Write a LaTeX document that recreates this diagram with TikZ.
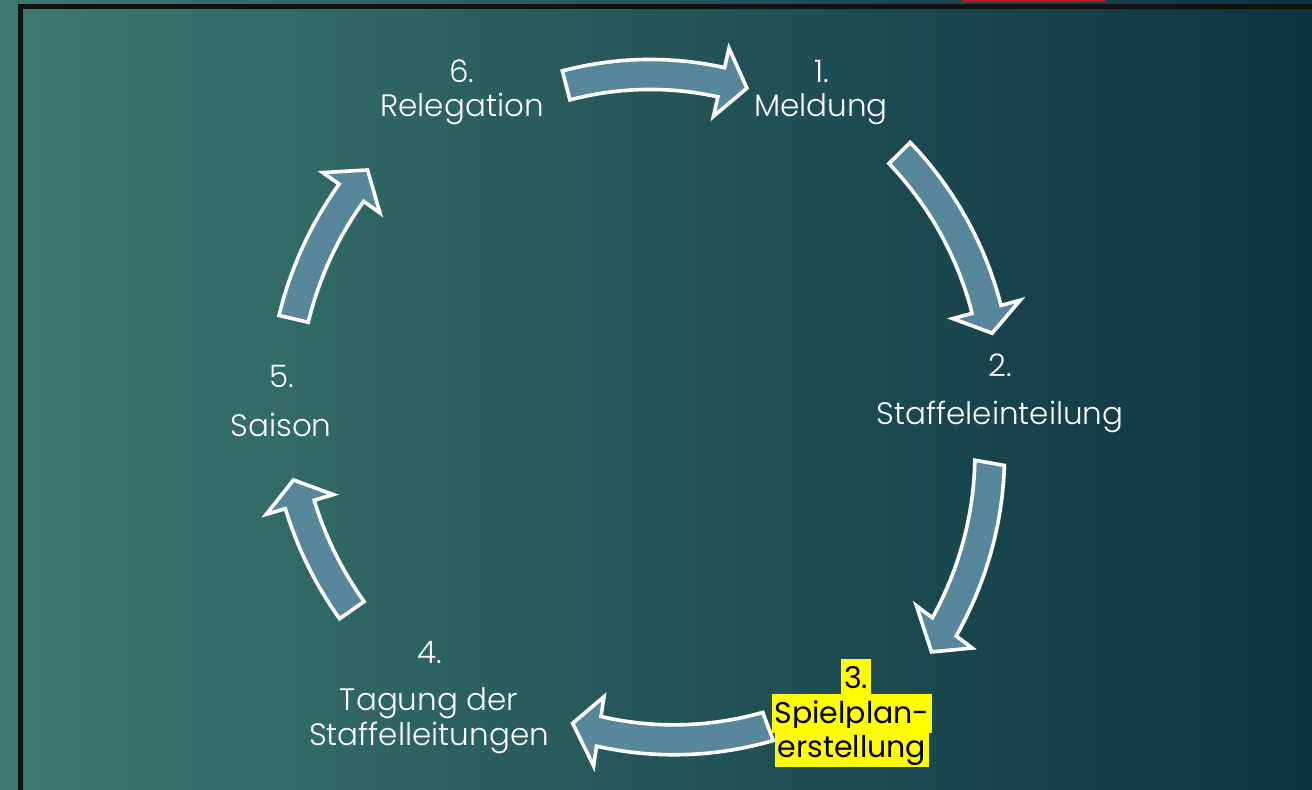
\documentclass[tikz,border=0pt]{standalone}
\usepackage{fontspec}
\IfFontExistsTF{Poppins Light}{\setmainfont{Poppins Light}}{\setmainfont{Poppins}}
\newfontfamily\hlfont{Poppins}
\definecolor{bgL}{RGB}{60,122,112}
\definecolor{bgM}{RGB}{36,88,92}
\definecolor{bgR}{RGB}{13,50,66}
\definecolor{framecol}{RGB}{17,17,17}
\definecolor{redbar}{RGB}{192,22,26}
\definecolor{arrowfill}{RGB}{88,135,156}
\definecolor{hlyellow}{RGB}{255,255,0}
\tikzset{
  arrowbody/.style={fill=arrowfill, draw=white, line width=1.8pt, line join=miter},
  lbl/.style={text=white, font=\fontsize{15.5}{19}\selectfont, anchor=base, inner sep=0pt},
  hl/.style={text=black, fill=hlyellow, font=\hlfont\fontsize{15}{19}\selectfont, anchor=base,
             inner xsep=1.5pt, inner ysep=0pt, text height=15pt, text depth=4.5pt},
}
\newcommand\cycarrow[6]{%
  \filldraw[arrowbody]
    plot[domain=#1:#2,samples=40] ({648+(#4+(#5-#4)*(\x-#1)/(#2-#1)+15)*cos(\x)},{388+(#4+(#5-#4)*(\x-#1)/(#2-#1)+15)*sin(\x)})
    -- ({648+(#5+35)*cos(#2)},{388+(#5+35)*sin(#2)})
    -- ({648+#6*cos(#3)},{388+#6*sin(#3)})
    -- ({648+(#5-35)*cos(#2)},{388+(#5-35)*sin(#2)})
    -- plot[domain=#2:#1,samples=40] ({648+(#4+(#5-#4)*(\x-#1)/(#2-#1)-15)*cos(\x)},{388+(#4+(#5-#4)*(\x-#1)/(#2-#1)-15)*sin(\x)})
    -- cycle;}
\begin{document}
\begin{tikzpicture}[x=0.5pt,y=0.5pt]
\useasboundingbox (0,0) rectangle (1312,790);
\shade[left color=bgL, middle color=bgM, right color=bgR] (0,0) rectangle (1312,790);
% frame
\fill[framecol] (18,0) rectangle (23,786);
\fill[framecol] (18,781) rectangle (1312,786);
\fill[redbar] (962,788) rectangle (1106,790);
% arrows: a0 a1 a2 r0 r1 r2
\cycarrow{104.5}{77.1}{72.5}{327}{328}{329}
\cycarrow{44.7}{15.3}{11.3}{354}{351}{351}
\cycarrow{-10.1}{-37.2}{-41.4}{347}{372}{378}
\cycarrow{-69.7}{-98.5}{-103.2}{346}{333}{330}
\cycarrow{215.1}{196.4}{192.4}{362}{363}{363}
\cycarrow{166.8}{144.8}{140.4}{364}{363}{364}
% labels
\node[lbl] (n6a) at (462,707) {6.};
\node[lbl] (n6b) at (462,673) {Relegation};
\node[lbl] (n1a) at (822,707) {1.};
\node[lbl] (n1b) at (821,673) {Meldung};
\node[lbl] (n2a) at (1000,413) {2.};
\node[lbl] (n2b) at (1000,365) {Staffeleinteilung};
\node[lbl] (n5a) at (282,402) {5.};
\node[lbl] (n5b) at (281,353) {Saison};
\node[lbl] (n4a) at (430,126) {4.};
\node[lbl] (n4b) at (429,79) {Tagung der};
\node[lbl] (n4c) at (429,44) {Staffelleitungen};
\node[hl] (n3a) at (856,101) {3.};
\node[hl] (n3b) at (852,66) {Spielplan-};
\node[hl] (n3c) at (852,32) {erstellung};
\end{tikzpicture}
\end{document}
